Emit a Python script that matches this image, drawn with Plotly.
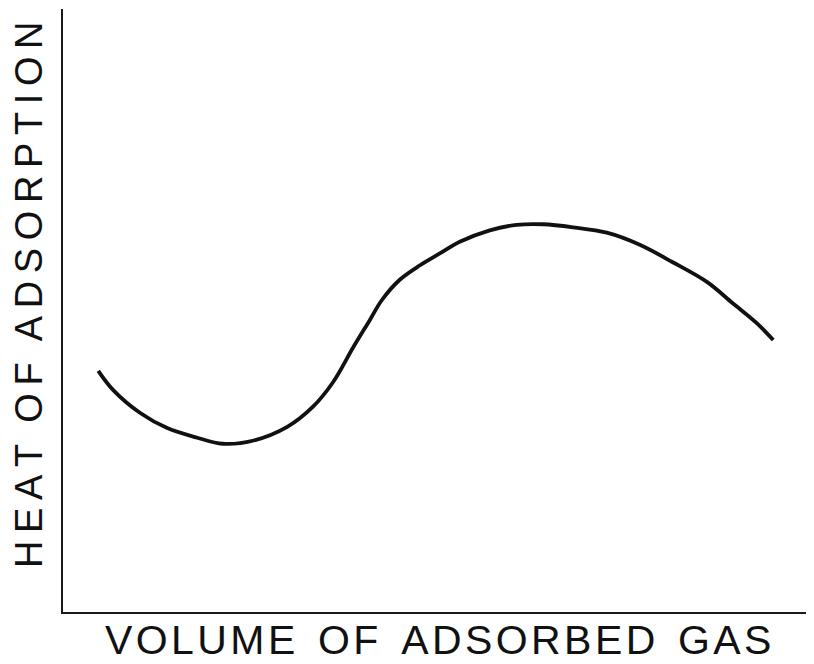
import plotly.graph_objects as go

# Values (arbitrary units, 0-10 on both axes)
volume = [0.47, 0.67, 1.03, 1.39, 1.79, 2.13, 2.53, 2.99, 3.33, 3.60, 3.87,
          4.09, 4.25, 4.49, 4.76, 5.03, 5.29, 5.69, 6.05, 6.40, 6.80, 7.25,
          7.69, 8.13, 8.59, 8.93, 9.25, 9.47]
heat = [4.00, 3.68, 3.30, 3.05, 2.89, 2.79, 2.84, 3.07, 3.40, 3.81, 4.39,
        4.84, 5.17, 5.51, 5.75, 5.95, 6.14, 6.33, 6.42, 6.43, 6.38, 6.29,
        6.09, 5.80, 5.47, 5.12, 4.79, 4.51]

HS = "\u200a"      # hair space
TS = "\u2009"      # thin space
NB = "\u00a0"


def spaced(text, gap):
    words = text.split(" ")
    return (NB * 2).join(gap.join(w) for w in words)


x_title = spaced("VOLUME OF ADSORBED GAS", HS)
y_title = spaced("HEAT OF ADSORPTION", TS)

# page body has an 8px margin: figure sized/offset so the plot sits where the reference's does
OFF = 8
W, H = 814 - OFF, 664 - OFF
L, R, T, B = 63 - OFF, 1, 9 - OFF, H - (612 - OFF)
pw, ph = W - L - R, H - T - B


def px_to_paper(sx, sy):
    fx, fy = sx - OFF, sy - OFF
    return (fx - L) / pw, (H - B - fy) / ph


fig = go.Figure()
fig.add_trace(go.Scatter(
    x=volume, y=heat, mode="lines",
    line=dict(color="#111111", width=3.8, shape="spline", smoothing=1.0),
    hoverinfo="skip", showlegend=False,
))

axis_common = dict(showline=True, linecolor="#1a1a1a", linewidth=2.2,
                   showgrid=False, zeroline=False, showticklabels=False,
                   ticks="", mirror=False)
fig.update_xaxes(range=[0, 10], **axis_common)
fig.update_yaxes(range=[0, 10], **axis_common)

font = dict(family="Liberation Sans, Arial, sans-serif", color="#111111")
yx, yy = px_to_paper(29, 295)
fig.add_annotation(text=y_title, xref="paper", yref="paper", x=yx, y=yy,
                   showarrow=False, textangle=-90, borderpad=0,
                   xanchor="center", yanchor="middle",
                   font=dict(size=38, **font))
xx, xy = px_to_paper(438, 640)
fig.add_annotation(text=x_title, xref="paper", yref="paper", x=xx, y=xy,
                   showarrow=False, xanchor="center", yanchor="middle",
                   borderpad=0, font=dict(size=41, **font))

fig.update_layout(width=W, height=H, margin=dict(l=L, r=R, t=T, b=B),
                  paper_bgcolor="white", plot_bgcolor="white")
fig.write_html("out.html")
